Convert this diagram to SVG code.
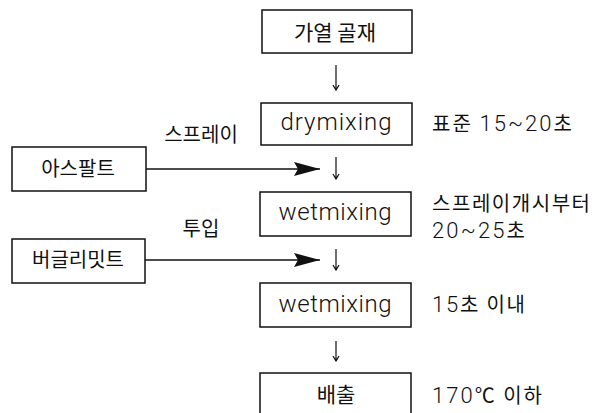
<svg xmlns="http://www.w3.org/2000/svg" width="600" height="413" viewBox="0 0 600 413">
<defs>
<style>
.box{fill:#fff;stroke:#111;stroke-width:1.5}
.ko{font-family:"Noto Sans CJK KR","Noto Sans",sans-serif;font-size:20px;fill:#111}
.la{font-family:Roboto,"Liberation Sans",Arial,sans-serif;font-weight:300;font-size:24px;fill:#111}
.c{text-anchor:middle}
.ln{stroke:#111;stroke-width:1.5;fill:none}
.dn{stroke:#111;stroke-width:1.2;fill:none}
</style>
<marker id="big" viewBox="0 0 26 14" refX="26" refY="7" markerWidth="26" markerHeight="14" markerUnits="userSpaceOnUse" orient="auto">
<path d="M0,0 L26,7 L0,14 L4,7 Z" fill="#111"/>
</marker>
</defs>
<rect width="600" height="413" fill="#fff"/>
<g id="n1"><rect class="box" x="262" y="10" width="150" height="43"/><text class="ko c" x="335" y="40" style="font-size:21px">가열 골재</text></g>
<g id="n2"><rect class="box" x="261" y="103" width="151" height="42"/><text class="la c" x="336" y="130" textLength="111" lengthAdjust="spacing">drymixing</text></g>
<g id="n3"><rect class="box" x="260" y="192" width="151" height="44"/><text class="la c" x="335" y="220" textLength="113" lengthAdjust="spacing">wetmixing</text></g>
<g id="n4"><rect class="box" x="260" y="283" width="151" height="44"/><text class="la c" x="335" y="312" textLength="113" lengthAdjust="spacing">wetmixing</text></g>
<g id="n5"><rect class="box" x="260" y="373" width="151" height="44"/><text class="ko c" x="336" y="402" style="font-size:21px">배출</text></g>
<g id="n6"><rect class="box" x="12" y="147" width="134" height="44"/><text class="ko c" x="78" y="176">아스팔트</text></g>
<g id="n7"><rect class="box" x="12" y="239" width="133" height="44"/><text class="ko c" x="78" y="267">버글리밋트</text></g>
<g id="connectors">
<path class="dn" d="M336,65 V90 M333,85 L336,90 L339,85"/>
<path class="dn" d="M336,157 V179 M333,174 L336,179 L339,174"/>
<path class="dn" d="M336,249 V270 M333,265 L336,270 L339,265"/>
<path class="dn" d="M336,341 V361 M333,356 L336,361 L339,356"/>
<line class="ln" x1="146" y1="169" x2="320" y2="169" marker-end="url(#big)"/>
<line class="ln" x1="145" y1="260" x2="320" y2="260" marker-end="url(#big)"/>
</g>
<g id="labels">
<text class="ko c" x="201" y="142">스프레이</text>
<text class="ko c" x="201" y="236">투입</text>
<text class="ko" x="432" y="131" textLength="140" lengthAdjust="spacing">표준 <tspan class="la" style="font-size:22px">15~20</tspan>초</text>
<text class="ko" x="432" y="211" textLength="158" lengthAdjust="spacing">스프레이개시부터</text>
<text class="ko" x="432" y="238" textLength="93" lengthAdjust="spacing"><tspan class="la" style="font-size:22px">20~25</tspan>초</text>
<text class="ko" x="432" y="312" textLength="93" lengthAdjust="spacing"><tspan class="la" style="font-size:22px">15</tspan>초 이내</text>
<text class="ko" x="432" y="403" textLength="110" lengthAdjust="spacing"><tspan class="la" style="font-size:22px">170</tspan>℃ 이하</text>
</g>
</svg>
